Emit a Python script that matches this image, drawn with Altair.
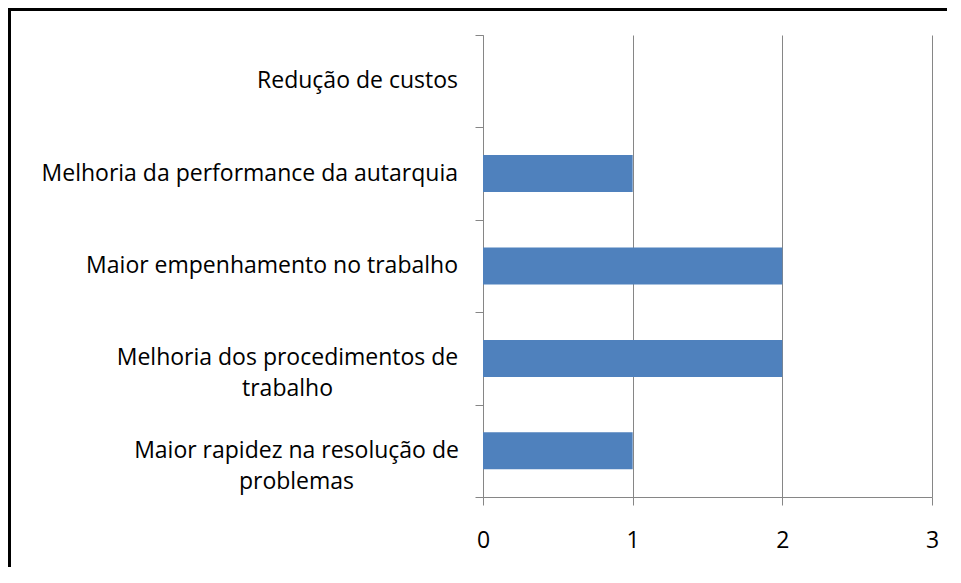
import altair as alt
import pandas as pd

categorias = [
    "Redução de custos",
    "Melhoria da performance da autarquia",
    "Maior empenhamento no trabalho",
    "Melhoria dos procedimentos de trabalho",
    "Maior rapidez na resolução de problemas",
]
valores = [0, 1, 2, 2, 1]
rotulos = [
    "Redução de custos",
    "Melhoria da performance da autarquia",
    "Maior empenhamento no trabalho",
    "Melhoria dos procedimentos de\ntrabalho",
    "Maior rapidez na resolução de\nproblemas",
]
ticks_x = [0, 1, 2, 3]

df = pd.DataFrame({"categoria": categorias, "valor": valores, "rotulo": rotulos})

FONT = "Open Sans"
FS = 23
GRAY = "#868686"
BLUE = "#4F81BD"
W, H = 449, 462

y_enc = alt.Y(
    "categoria:N",
    sort=categorias,
    scale=alt.Scale(paddingInner=0, paddingOuter=0),
    axis=alt.Axis(
        title=None, labels=False, tickBand="extent", tickSize=8,
        domainColor=GRAY, tickColor=GRAY, grid=False,
    ),
)
x_enc = alt.X(
    "valor:Q",
    scale=alt.Scale(domain=[0, 3]),
    axis=alt.Axis(
        title=None, values=ticks_x, grid=True, gridColor=GRAY, gridOpacity=1,
        domainColor=GRAY, tickColor=GRAY, tickSize=8, labelFont=FONT,
        labelFontSize=FS, labelPadding=24, labelColor="black", format="d",
        labelFlush=False,
    ),
)

bars = alt.Chart(df).mark_bar(
    color=BLUE, height=alt.RelativeBandSize(0.4)
).encode(x=x_enc, y=y_enc)

y_txt = alt.Y("categoria:N", sort=categorias)

single = (
    alt.Chart(df)
    .transform_filter("indexof(datum.rotulo, '\\n') < 0")
    .mark_text(align="right", baseline="middle", font=FONT, fontSize=FS, color="black")
    .encode(x=alt.value(-25), y=y_txt, text="rotulo:N")
)

multi1 = (
    alt.Chart(df)
    .transform_filter(alt.datum.categoria == categorias[3])
    .mark_text(align="center", baseline="middle", font=FONT, fontSize=FS,
               color="black", lineBreak="\n", lineHeight=31)
    .encode(x=alt.value(-195.5), y=y_txt, text="rotulo:N")
)
multi2 = (
    alt.Chart(df)
    .transform_filter(alt.datum.categoria == categorias[4])
    .mark_text(align="center", baseline="middle", font=FONT, fontSize=FS,
               color="black", lineBreak="\n", lineHeight=31)
    .encode(x=alt.value(-186.5), y=y_txt, text="rotulo:N")
)

frame_left = alt.Chart(df).mark_rule(color="black", strokeWidth=3).encode(
    x=alt.value(-473.5), y=alt.value(-27), y2=alt.value(H + 70)
)
frame_top = alt.Chart(df).mark_rule(color="black", strokeWidth=3).encode(
    x=alt.value(-475), x2=alt.value(W + 15), y=alt.value(-25.5)
)

chart = (
    alt.layer(bars, single, multi1, multi2, frame_left, frame_top)
    .properties(
        width=W, height=H,
        autosize=alt.AutoSizeParams(type="none"),
        padding={"left": 475, "top": 27, "right": 15, "bottom": 70},
        background="white",
    )
    .configure_view(stroke=None)
)

chart.save("out.html", embed_options={"renderer": "svg", "actions": False})
